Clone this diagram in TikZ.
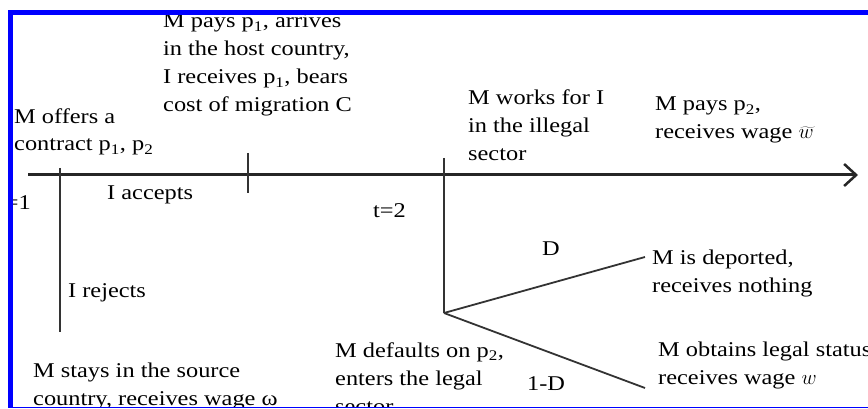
\documentclass[tikz,border=0pt]{standalone}
\usepackage{fontspec}
\setmainfont[FakeStretch=1.16]{Liberation Serif}
\usetikzlibrary{arrows.meta}

\begin{document}
\begin{tikzpicture}[x=1pt, y=-1pt, every node/.style={font=\fontsize{21}{28}\selectfont, inner sep=0pt, anchor=base west, align=left}]
\tikzset{
  timeline/.style={draw=black!85, line width=3pt, -{Straight Barb[length=12pt, width=22pt, line width=2.5pt]}},
  tick/.style={draw=black!80, line width=1.8pt},
  branch/.style={draw=black!80, line width=1.8pt},
  framebar/.style={fill=blue, draw=none}
}
\useasboundingbox (0,0) rectangle (868,409);
\begin{scope}
\clip (12.5,15) rectangle (868,406.5);
% time axis and decision points
\coordinate (tstart) at (28,175);
\coordinate (tend) at (858,175);
\coordinate (offertop) at (60,168);
\coordinate (rejectend) at (60,332);
\coordinate (arrivetop) at (248,153);
\coordinate (arrivebot) at (248,193);
\coordinate (worktop) at (444,158);
\coordinate (fork) at (444,313);
\coordinate (deportend) at (645,257);
\coordinate (legalend) at (645,388);
\draw[timeline] (tstart) -- (tend);
\draw[tick] (offertop) -- (rejectend);
\draw[tick] (arrivetop) -- (arrivebot);
\draw[tick] (worktop) -- (fork);
\draw[branch] (fork) -- (deportend);
\draw[branch] (fork) -- (legalend);
% events above the axis (base = last line)
\node (offer) at (14,151) {M offers a\\contract p\textsubscript{1}, p\textsubscript{2}};
\node (arrive) at (163,112) {M pays p\textsubscript{1}, arrives\\in the host country,\\I receives p\textsubscript{1}, bears\\cost of migration C};
\node (work) at (468,161) {M works for I\\in the illegal\\sector};
\node (paytwo) at (655,139) {M pays p\textsubscript{2},\\receives wage $\widetilde{w}$};
% labels below the axis
\node (tone) at (-2,210) {t=1};
\node (accept) at (107,200) {I accepts};
\node (ttwo) at (373,217) {t=2};
\node (reject) at (68,297) {I rejects};
\node (stay) at (33,405) {M stays in the source\\country, receives wage ω};
\node (dlabel) at (542,255) {D};
\node (ndlabel) at (527,390) {1-D};
\node (deport) at (652,292) {M is deported,\\receives nothing};
\node (default) at (335,413) {M defaults on p\textsubscript{2},\\enters the legal\\sector};
\node (legal) at (658,384) {M obtains legal status\\receives wage $w$};
\end{scope}
% frame
\fill[framebar] (7.5,10) rectangle (868,15);
\fill[framebar] (7.5,10) rectangle (12.5,408.3);
\fill[framebar] (7.5,406.7) rectangle (868,408.3);
\end{tikzpicture}
\end{document}
